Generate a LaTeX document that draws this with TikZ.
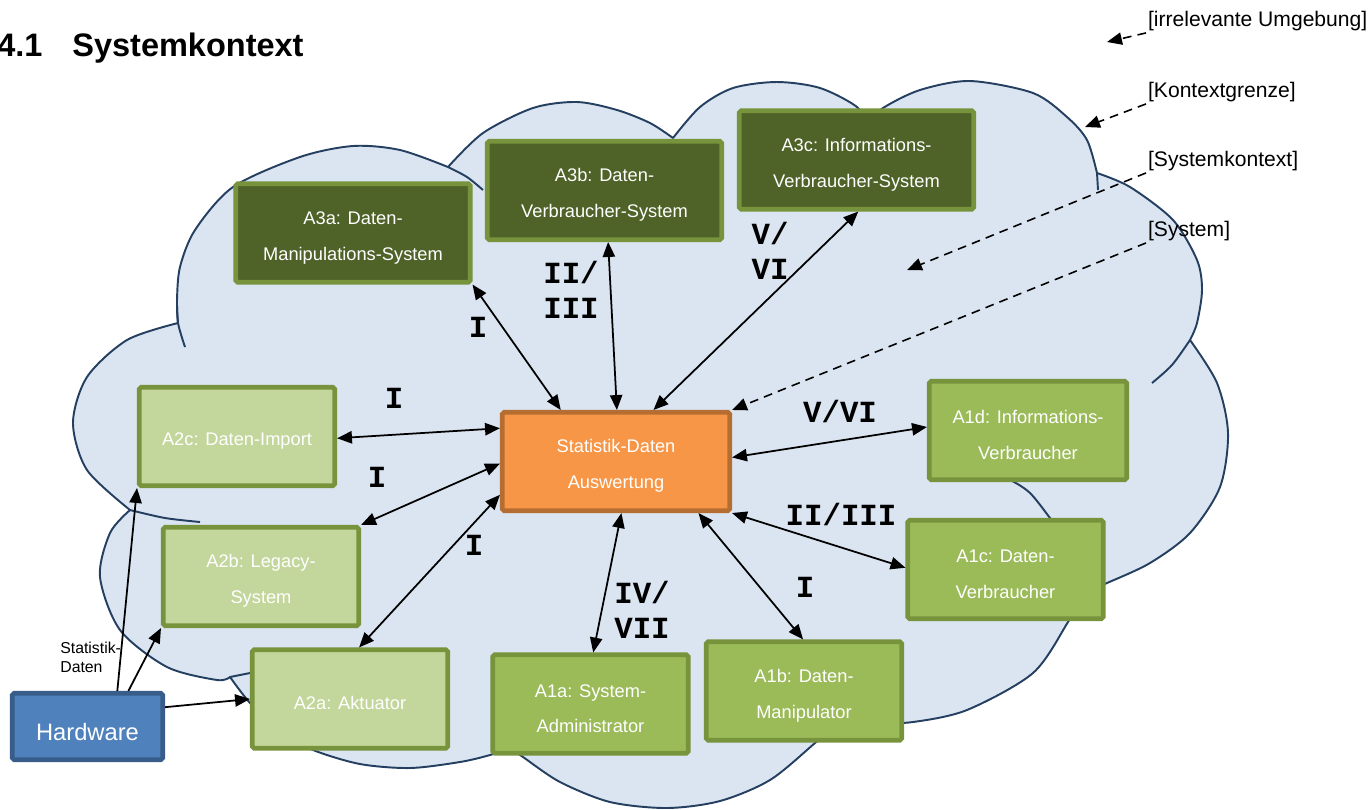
\documentclass[tikz,border=0pt]{standalone}
\usepackage{fontspec}
\setmainfont{Liberation Sans}
\newfontfamily\monofont{Liberation Mono}
\usepackage{tikz}
\usetikzlibrary{arrows.meta}

\definecolor{darkgreen}{HTML}{4F6228}
\definecolor{lightgreen}{HTML}{C3D69B}
\definecolor{midgreen}{HTML}{9BBB59}
\definecolor{boxborder}{HTML}{77933C}
\definecolor{sdafill}{HTML}{F79646}
\definecolor{sdaborder}{HTML}{B66D31}
\definecolor{hwfill}{HTML}{4F81BD}
\definecolor{hwborder}{HTML}{385D8A}
\definecolor{cloudfill}{HTML}{DBE5F1}
\definecolor{cloudline}{HTML}{243F60}

\begin{document}
\begin{tikzpicture}[x=0.02cm, y=0.02cm, >={Triangle[length=8.5pt,width=7pt]},
  sysbox/.style={draw, line width=2.6pt, rounded corners=1pt, text=white, align=center,
    font=\fontsize{10.4}{20.4}\selectfont, minimum width=3.91cm, minimum height=1.97cm, inner sep=2pt},
  twoline/.style={execute at begin node=\rule{0pt}{33pt}},
  oneline/.style={execute at begin node=\rule{0pt}{12.5pt}},
  darkbox/.style={sysbox, twoline, fill=darkgreen, draw=boxborder, minimum width=4.69cm},
  lightbox/.style={sysbox, fill=lightgreen, draw=boxborder},
  midbox/.style={sysbox, twoline, fill=midgreen, draw=boxborder},
  numlabel/.style={font=\monofont\bfseries\fontsize{17.5}{20}\selectfont, align=left, inner sep=0pt},
  legendtext/.style={font=\fontsize{12}{14}\selectfont, anchor=west, inner sep=1pt},
  biarrow/.style={<->, line width=1pt},
  hint/.style={->, line width=0.9pt, dash pattern=on 5pt off 3.5pt},
  cloudedge/.style={draw=cloudline, line width=1.1pt, line join=round}]

  \useasboundingbox (0,0) rectangle (1372,-809);

  % Kontextgrenze
  \filldraw[cloudedge, fill=cloudfill]
    plot[smooth] coordinates {(178,-323) (127,-340) (87,-377) (73,-423) (87,-470) (130,-510)}
    -- plot[smooth] coordinates {(130,-510) (110,-533) (100,-577) (120,-630) (167,-667) (217,-680) (230,-677)}
    -- plot[smooth] coordinates {(230,-677) (250,-703) (280,-732) (313,-750) (360,-764) (410,-768) (460,-762) (490,-755) (510,-748)}
    -- plot[smooth] coordinates {(510,-748) (523,-757) (560,-782) (610,-802) (667,-808) (720,-801) (770,-780) (815,-743) (850,-712)}
    -- plot[smooth] coordinates {(850,-712) (880,-722) (913,-722) (967,-710) (1033,-673) (1068,-622) (1085,-592)}
    -- plot[smooth] coordinates {(1085,-592) (1107,-583) (1150,-563) (1190,-533) (1220,-487) (1228,-433) (1217,-383) (1190,-340)}
    -- plot[smooth] coordinates {(1190,-340) (1197,-323) (1202,-290) (1197,-260) (1173,-220) (1130,-187) (1097,-173)}
    -- plot[smooth] coordinates {(1097,-173) (1087,-140) (1067,-117) (1033,-93) (970,-81) (920,-90) (883,-108) (865,-125)}
    -- plot[smooth] coordinates {(865,-125) (857,-107) (820,-88) (777,-82) (733,-88) (700,-107) (673,-138)}
    -- plot[smooth] coordinates {(673,-138) (650,-123) (617,-110) (577,-102) (533,-108) (483,-133) (448,-167)}
    -- plot[smooth] coordinates {(448,-167) (400,-150) (353,-146) (300,-157) (233,-187) (195,-230) (180,-267) (177,-300) (178,-323)}
    -- cycle;
  \draw[cloudedge] plot[smooth] coordinates {(177,-300) (178,-323) (185,-347)};
  \draw[cloudedge] plot[smooth] coordinates {(448,-167) (467,-177) (483,-190)};
  \draw[cloudedge] (1097,-173) -- (1098,-190);
  \draw[cloudedge] plot[smooth] coordinates {(1190,-340) (1172,-365) (1152,-383)};
  \draw[cloudedge] plot[smooth] coordinates {(1085,-592) (1078,-560) (1063,-535) (1050,-518) (1030,-493) (1010,-480) (985,-472)};
  \draw[cloudedge] plot[smooth] coordinates {(130,-510) (165,-518) (200,-522)};
  \draw[cloudedge] (230,-677) -- (250,-673);

  % Title
  \node[anchor=base west, font=\bfseries\fontsize{18.5}{22}\selectfont, inner sep=0pt] (num) at (-3,-56) {4.1};
  \node[anchor=base west, font=\bfseries\fontsize{18.5}{22}\selectfont, inner sep=0pt] (title) at (72,-56) {Systemkontext};

  % Systeme
  \node[darkbox] (A3a) at (353,-233) {A3a: Daten-\\Manipulations-System};
  \node[darkbox] (A3b) at (604.5,-190.5) {A3b: Daten-\\Verbraucher-System};
  \node[darkbox] (A3c) at (856.5,-160) {A3c: Informations-\\Verbraucher-System};
  \node[lightbox, oneline] (A2c) at (237,-436.5) {A2c: Daten-Import};
  \node[lightbox, twoline] (A2b) at (261,-576.5) {A2b: Legacy-\\System};
  \node[lightbox, oneline] (A2a) at (350,-699) {A2a: Aktuator};
  \node[sysbox, twoline, fill=sdafill, draw=sdaborder, minimum width=4.55cm] (SDA) at (616,-461.5) {Statistik-Daten\\Auswertung};
  \node[midbox, minimum width=3.95cm] (A1d) at (1028,-430.5) {A1d: Informations-\\Verbraucher};
  \node[midbox] (A1c) at (1005.5,-569.5) {A1c: Daten-\\Verbraucher};
  \node[midbox] (A1b) at (804,-691) {A1b: Daten-\\Manipulator};
  \node[midbox] (A1a) at (590.5,-704) {A1a: System-\\Administrator};
  \node[sysbox, fill=hwfill, draw=hwborder, minimum width=3.01cm, minimum height=1.33cm,
    font=\fontsize{13.5}{16}\selectfont, execute at begin node=\rule{0pt}{15.5pt}] (HW) at (87.5,-726.5) {Hardware};

  % Schnittstellen
  \draw[biarrow] (A3a.south east) -- (SDA.137);
  \draw[biarrow] (A3b.274) -- (SDA.89);
  \draw[biarrow] (A3c.272) -- (SDA.54);
  \draw[biarrow] (SDA.2) -- (A1d.178);
  \draw[biarrow] (SDA.south east) -- (A1c.179);
  \draw[biarrow] (SDA.328) -- (A1b.91);
  \draw[biarrow] (SDA.276) -- (A1a.87);
  \draw[biarrow] (SDA.164) -- (A2c.359);
  \draw[biarrow] (SDA.181) -- (A2b.north east);
  \draw[biarrow] (SDA.196) -- (A2a.80);
  \draw[->, line width=1pt] (HW.50) -- (A2c.south west);
  \draw[->, line width=1pt] (HW.41) -- (A2b.south west);
  \draw[->, line width=1pt] (HW.14) -- (A2a.west);

  \node[numlabel] (r1) at (478,-327) {I};
  \node[numlabel] (r2) at (571,-290) {II/\\III};
  \node[numlabel] (r3) at (770,-251) {V/\\VI};
  \node[numlabel] (r4) at (394,-398) {I};
  \node[numlabel] (r5) at (377,-477) {I};
  \node[numlabel] (r6) at (474,-545) {I};
  \node[numlabel] (r7) at (840,-411) {V/VI};
  \node[numlabel] (r8) at (841,-514) {II/III};
  \node[numlabel] (r9) at (805,-587) {I};
  \node[numlabel] (r10) at (642,-610) {IV/\\VII};

  \node[font=\fontsize{9}{10.8}\selectfont, align=left, inner sep=0pt, anchor=west] (stat) at (60,-657) {Statistik-\\Daten};

  % Legende
  \node[legendtext] (lirr) at (1146,-21) {[irrelevante Umgebung]};
  \node[legendtext] (lkon) at (1146,-92) {[Kontextgrenze]};
  \node[legendtext] (lsk) at (1146,-161) {[Systemkontext]};
  \node[legendtext] (lsys) at (1146,-231) {[System]};
  \coordinate (pirr) at (1107,-42);
  \coordinate (pkon) at (1085,-127);
  \coordinate (psk) at (907,-270);
  \draw[hint] (lirr.south west) -- (pirr);
  \draw[hint] (lkon.south west) -- (pkon);
  \draw[hint] (lsk.south west) -- (psk);
  \draw[hint] (lsys.south west) -- (SDA.north east);
\end{tikzpicture}
\end{document}
